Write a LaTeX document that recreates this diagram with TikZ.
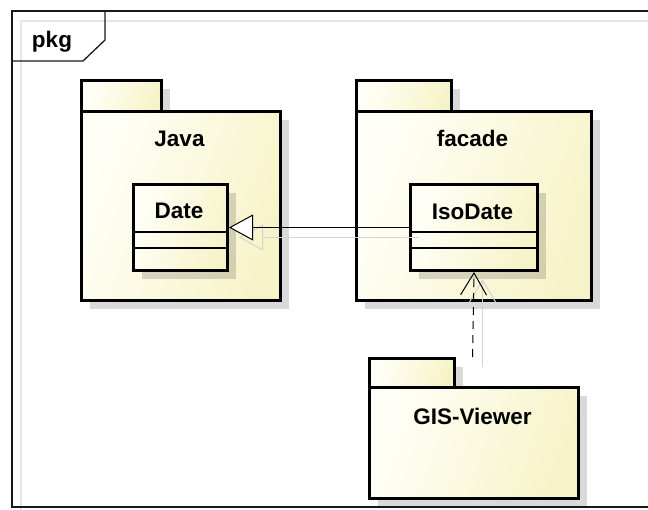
\documentclass[tikz,border=0pt]{standalone}
\usepackage{fontspec}
\setmainfont{Liberation Sans}
\usetikzlibrary{arrows.meta}

\definecolor{creamA}{HTML}{FFFFF8}
\definecolor{creamC}{HTML}{F7F3C8}
\definecolor{innerline}{HTML}{E6E6E6}
\definecolor{linkshadow}{HTML}{D4D4D4}

\tikzset{
  boxfill/.style={left color=creamA, right color=creamC, shading angle=70},
  pkgtab/.style={boxfill, draw=black, line width=3pt, rectangle, inner sep=0pt},
  pkgbody/.style={boxfill, draw=black, line width=3pt, rectangle, inner sep=0pt, anchor=north west},
  classbox/.style={boxfill, draw=black, line width=3pt, rectangle, inner sep=0pt, anchor=north west},
  dropshadow/.style={fill=black, fill opacity=0.15, draw=none},
  sepline/.style={line width=1.3pt, draw=black},
  lbl/.style={font=\fontsize{22.5}{26}\selectfont\bfseries, inner sep=0pt, anchor=base},
  genlink/.style={line width=1pt, -{Triangle[open, fill=white, length=24pt, width=26pt]}},
  deplink/.style={line width=1pt, dash pattern=on 8pt off 6pt, -{Straight Barb[length=22pt, width=26pt]}},
  shadowlink/.style={line width=1pt, draw=linkshadow},
}

\begin{document}
\begin{tikzpicture}[x=1pt, y=-1pt]
\useasboundingbox (0,0) rectangle (648,509);

% diagram frame
\draw[innerline, line width=2pt] (21,21) rectangle (700,700);
\draw[line width=1.5pt, draw=black!90] (12,11) rectangle (700,507);
\draw[line width=1.3pt, draw=black!90] (12,61) -- (83,61) -- (105,40) -- (105,11);
\node[lbl] (framelbl) at (52,47) {pkg};

% shadows of packages and classes
\fill[dropshadow] (90,89) rectangle (170,120);
\fill[dropshadow] (90,120) rectangle (289,309);
\fill[dropshadow] (365,89) rectangle (460,120);
\fill[dropshadow] (365,120) rectangle (600,309);
\fill[dropshadow] (378,367) rectangle (463,396);
\fill[dropshadow] (378,396) rectangle (587,507);

% package Java
\node[pkgtab, minimum width=80, minimum height=31, anchor=north west] (javatab) at (80,79) {};
\node[pkgbody, minimum width=199, minimum height=189] (java) at (80,110) {};
\node[lbl] (javalbl) at (179.5,146) {Java};

% package facade
\node[pkgtab, minimum width=95, minimum height=31, anchor=north west] (facadetab) at (355,79) {};
\node[pkgbody, minimum width=235, minimum height=189] (facade) at (355,110) {};
\node[lbl] (facadelbl) at (472.5,146) {facade};

% package GIS-Viewer
\node[pkgtab, minimum width=85, minimum height=29, anchor=north west] (gistab) at (368,357) {};
\node[pkgbody, minimum width=209, minimum height=111] (gis) at (368,386) {};
\node[lbl] (gislbl) at (472.5,424) {GIS-Viewer};

% class shadows
\fill[dropshadow] (142,193) rectangle (236,279);
\fill[dropshadow] (419,193) rectangle (546,279);

% class Date
\node[classbox, minimum width=94, minimum height=86] (date) at (132,183) {};
\draw[sepline] (132,232) -- (226,232);
\draw[sepline] (132,248) -- (226,248);
\node[lbl] (datelbl) at (179,218) {Date};

% class IsoDate
\node[classbox, minimum width=127, minimum height=86] (iso) at (409,183) {};
\draw[sepline] (409,232) -- (536,232);
\draw[sepline] (409,248) -- (536,248);
\node[lbl] (isolbl) at (472.5,219) {IsoDate};

% connector shadows
\coordinate (gentailshadow) at ([shift={(10,10)}]iso.west);
\coordinate (genheadshadow) at ([shift={(10,10)}]date.east);
\draw[shadowlink, -{Triangle[open, length=24pt, width=26pt]}] (gentailshadow) -- (genheadshadow);
\coordinate (gistop) at (472.5,357);
\coordinate (deptailshadow) at (482.5,367);
\coordinate (depheadshadow) at (482.5,279);
\draw[shadowlink, -{Straight Barb[length=22pt, width=26pt]}] (deptailshadow) -- (depheadshadow);

% generalization IsoDate -> Date
\draw[genlink] (iso.west) -- (date.east);

% dependency GIS-Viewer -> IsoDate
\draw[deplink] (gistop) -- (iso.south);
\end{tikzpicture}
\end{document}
